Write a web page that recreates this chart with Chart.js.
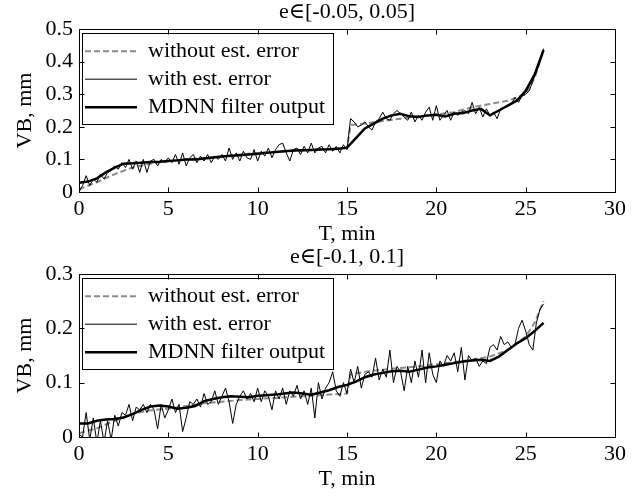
<!DOCTYPE html>
<html>
<head>
<meta charset="utf-8">
<script src="https://cdn.jsdelivr.net/npm/chart.js@4.4.1/dist/chart.umd.min.js"></script>
<style>
  body { margin: 0; background: #fff; }
  canvas { position: absolute; left: 0; }
  #topChart { top: 0; }
  #bottomChart { top: 245px; }
</style>
</head>
<body>
<canvas id="topChart" width="634" height="245"></canvas>
<canvas id="bottomChart" width="634" height="245"></canvas>
<script>
// tick labels
const xTicks = ['0', '5', '10', '15', '20', '25', '30'];
const yTicksTop = ['0', '0.1', '0.2', '0.3', '0.4', '0.5'];
const yTicksBottom = ['0', '0.1', '0.2', '0.3'];

// time axes (min)
const tClean = [0, 1, 2, 3, 4, 5, 6, 7, 8, 9, 10, 11, 12, 13, 14, 15, 15.2, 16, 17, 18, 19, 20, 21, 22, 23, 24, 25, 25.5, 26];
const tFilter = [0, 0.5, 1, 1.5, 2, 2.5, 3, 3.5, 4, 4.5, 5, 5.5, 6, 6.5, 7, 7.5, 8, 8.5, 9, 9.5,
  10, 10.5, 11, 11.5, 12, 12.5, 13, 13.5, 14, 14.5, 15, 15.5, 16, 16.5, 17, 17.5, 18, 18.5, 19, 19.5,
  20, 20.5, 21, 21.5, 22, 22.5, 23, 23.5, 24, 24.5, 25, 25.5, 26];
const tNoisy = [0, 0.2, 0.4, 0.6, 0.8, 1, 1.2, 1.4, 1.6, 1.8,
  2, 2.2, 2.4, 2.6, 2.8, 3, 3.2, 3.4, 3.6, 3.8,
  4, 4.2, 4.4, 4.6, 4.8, 5, 5.2, 5.4, 5.6, 5.8,
  6, 6.2, 6.4, 6.6, 6.8, 7, 7.2, 7.4, 7.6, 7.8,
  8, 8.2, 8.4, 8.6, 8.8, 9, 9.2, 9.4, 9.6, 9.8,
  10, 10.2, 10.4, 10.6, 10.8, 11, 11.2, 11.4, 11.6, 11.8,
  12, 12.2, 12.4, 12.6, 12.8, 13, 13.2, 13.4, 13.6, 13.8,
  14, 14.2, 14.4, 14.6, 14.8, 15, 15.2, 15.4, 15.6, 15.8,
  16, 16.2, 16.4, 16.6, 16.8, 17, 17.2, 17.4, 17.6, 17.8,
  18, 18.2, 18.4, 18.6, 18.8, 19, 19.2, 19.4, 19.6, 19.8,
  20, 20.2, 20.4, 20.6, 20.8, 21, 21.2, 21.4, 21.6, 21.8,
  22, 22.2, 22.4, 22.6, 22.8, 23, 23.2, 23.4, 23.6, 23.8,
  24, 24.2, 24.4, 24.6, 24.8, 25, 25.2, 25.4, 25.6, 25.8,
  26];

// e in [-0.05, 0.05]
const cleanTop = [0.008, 0.03, 0.055, 0.075, 0.087, 0.095, 0.1, 0.104, 0.109, 0.115, 0.12, 0.123, 0.126, 0.129, 0.132, 0.135, 0.205, 0.21, 0.218, 0.225, 0.232, 0.238, 0.245, 0.26, 0.27, 0.28, 0.3, 0.35, 0.435];
const noisyTop = [0.0, 0.02, 0.05, 0.02, 0.04, 0.03, 0.055, 0.04, 0.06, 0.065,
  0.08, 0.07, 0.09, 0.075, 0.1, 0.07, 0.095, 0.06, 0.1, 0.06,
  0.095, 0.1, 0.08, 0.1, 0.09, 0.105, 0.09, 0.115, 0.085, 0.12,
  0.08, 0.105, 0.115, 0.09, 0.11, 0.095, 0.115, 0.09, 0.11, 0.1,
  0.115, 0.095, 0.135, 0.1, 0.12, 0.095, 0.125, 0.105, 0.1, 0.13,
  0.095, 0.125, 0.11, 0.135, 0.105, 0.13, 0.145, 0.15, 0.12, 0.095,
  0.13, 0.135, 0.115, 0.14, 0.12, 0.15, 0.12, 0.135, 0.14, 0.12,
  0.145, 0.125, 0.14, 0.12, 0.145, 0.13, 0.225, 0.215, 0.2, 0.205,
  0.215, 0.2, 0.19, 0.215, 0.225, 0.245, 0.225, 0.22, 0.24, 0.25,
  0.24, 0.23, 0.22, 0.245, 0.215, 0.235, 0.22, 0.245, 0.26, 0.22,
  0.265, 0.22, 0.235, 0.25, 0.22, 0.245, 0.235, 0.245, 0.25, 0.24,
  0.275, 0.24, 0.26, 0.23, 0.255, 0.235, 0.245, 0.225, 0.255, 0.26,
  0.265, 0.27, 0.29, 0.275, 0.295, 0.3, 0.31, 0.34, 0.37, 0.4,
  0.44];
const mdnnTop = [0.028, 0.032, 0.042, 0.06, 0.075, 0.087, 0.088, 0.09, 0.092, 0.093,
  0.095, 0.097, 0.1, 0.1, 0.103, 0.106, 0.109, 0.111, 0.113, 0.115,
  0.117, 0.12, 0.123, 0.125, 0.127, 0.128, 0.129, 0.13, 0.131, 0.133,
  0.136, 0.165, 0.195, 0.21, 0.225, 0.235, 0.24, 0.232, 0.23, 0.235,
  0.237, 0.232, 0.24, 0.242, 0.25, 0.255, 0.235, 0.25, 0.265, 0.28,
  0.31, 0.36, 0.435];

// e in [-0.1, 0.1]
const cleanBottom = [0.007, 0.016, 0.03, 0.043, 0.049, 0.052, 0.057, 0.062, 0.065, 0.068, 0.07, 0.072, 0.074, 0.076, 0.078, 0.08, 0.115, 0.12, 0.124, 0.127, 0.13, 0.134, 0.138, 0.142, 0.148, 0.16, 0.185, 0.21, 0.25];
const noisyBottom = [0.005, 0.0, 0.045, -0.005, 0.035, -0.01, 0.03, -0.01, 0.03, -0.005,
  0.04, 0.02, 0.045, 0.04, 0.06, 0.03, 0.055, 0.05, 0.06, 0.045,
  0.06, 0.05, 0.015, 0.06, 0.035, 0.05, 0.07, 0.045, 0.06, 0.01,
  0.035, 0.065, 0.06, 0.07, 0.055, 0.08, 0.06, 0.065, 0.085, 0.06,
  0.075, 0.09, 0.065, 0.025, 0.06, 0.075, 0.085, 0.07, 0.08, 0.065,
  0.09, 0.065, 0.085, 0.075, 0.05, 0.085, 0.07, 0.09, 0.06, 0.085,
  0.075, 0.095, 0.07, 0.085, 0.06, 0.09, 0.035, 0.1, 0.07, 0.09,
  0.1, 0.12, 0.085, 0.075, 0.1, 0.08, 0.125, 0.1, 0.13, 0.09,
  0.115, 0.12, 0.11, 0.145, 0.105, 0.125, 0.11, 0.16, 0.1, 0.13,
  0.12, 0.085, 0.13, 0.1, 0.14, 0.11, 0.16, 0.1, 0.155, 0.115,
  0.1, 0.14, 0.13, 0.15, 0.14, 0.155, 0.12, 0.165, 0.105, 0.15,
  0.14, 0.145, 0.13, 0.14, 0.135, 0.165, 0.17, 0.16, 0.185, 0.17,
  0.175, 0.165, 0.17, 0.2, 0.215, 0.195, 0.17, 0.16, 0.21, 0.235,
  0.245];
const mdnnBottom = [0.025, 0.025, 0.03, 0.032, 0.033, 0.036, 0.042, 0.05, 0.056, 0.058,
  0.056, 0.052, 0.054, 0.057, 0.066, 0.07, 0.073, 0.075, 0.074, 0.073,
  0.076, 0.077, 0.078, 0.08, 0.082, 0.08, 0.078, 0.082, 0.086, 0.092,
  0.096, 0.102, 0.11, 0.115, 0.118, 0.121, 0.122, 0.12, 0.124, 0.128,
  0.13, 0.133, 0.136, 0.139, 0.141, 0.142, 0.14, 0.148, 0.16, 0.172,
  0.182, 0.195, 0.21];

const SERIF = "'Liberation Serif', 'Times New Roman', 'DejaVu Serif', serif";

function pts(ts, vs) {
    return ts.map((t, i) => ({ x: t, y: vs[i] }));
}

// box around the axes with inward ticks on all four sides
const framePlugin = {
    id: 'frame',
    afterDatasetsDraw(chart) {
        const { ctx, chartArea: a, scales: { x, y } } = chart;
        const L = Math.round(a.left) + 0.5, R = Math.round(a.right) + 0.5;
        const T = Math.round(a.top) + 0.5, B = Math.round(a.bottom) + 0.5;
        ctx.save();
        ctx.strokeStyle = '#000';
        ctx.lineWidth = 1;
        ctx.setLineDash([]);
        ctx.strokeRect(L, T, R - L, B - T);
        ctx.beginPath();
        x.ticks.forEach(t => {
            const px = Math.round(x.getPixelForValue(t.value)) + 0.5;
            ctx.moveTo(px, B); ctx.lineTo(px, B - 5);
            ctx.moveTo(px, T); ctx.lineTo(px, T + 5);
        });
        y.ticks.forEach(t => {
            const py = Math.round(y.getPixelForValue(t.value)) + 0.5;
            ctx.moveTo(L, py); ctx.lineTo(L + 5, py);
            ctx.moveTo(R, py); ctx.lineTo(R - 5, py);
        });
        ctx.stroke();
        ctx.restore();
    }
};

// the chartArea legend loses its top offset, put it back inside the axes
// and draw a rectangle around the entries
const legendFrame = {
    id: 'legendFrame',
    afterLayout(chart) {
        const lg = chart.legend, a = chart.chartArea;
        const dy = a.top - lg.top;
        lg.top += dy;
        lg.bottom += dy;
        lg.legendHitBoxes.forEach(b => { b.top += dy; });
    },
    afterDraw(chart) {
        const hb = chart.legend.legendHitBoxes;
        if (!hb || !hb.length) return;
        const ctx = chart.ctx;
        const left = Math.round(hb[0].left - 3) + 0.5;
        const top = Math.round(hb[0].top - 7) + 0.5;
        const right = Math.round(Math.max(...hb.map(b => b.left + b.width)) + 8) + 0.5;
        const last = hb[hb.length - 1];
        const bottom = Math.round(last.top + last.height + 6) + 0.5;
        ctx.save();
        ctx.strokeStyle = '#000';
        ctx.lineWidth = 1;
        ctx.strokeRect(left, top, right - left, bottom - top);
        ctx.restore();
    }
};

function makeChart(id, titleText, yMax, yLabels, clean, noisy, mdnn) {
    const font = { family: SERIF, size: 22, weight: 'normal' };
    return new Chart(document.getElementById(id).getContext('2d'), {
        type: 'line',
        data: {
            datasets: [{
                label: 'without est. error',
                data: pts(tClean, clean),
                borderColor: '#8a8a8a',
                borderWidth: 2,
                borderDash: [6, 3],
                pointRadius: 0,
                order: 3
            }, {
                label: 'with est. error',
                data: pts(tNoisy, noisy),
                borderColor: '#000',
                borderWidth: 1,
                pointRadius: 0,
                order: 2
            }, {
                label: 'MDNN filter output',
                data: pts(tFilter, mdnn),
                borderColor: '#000',
                borderWidth: 2.5,
                pointRadius: 0,
                order: 1
            }]
        },
        options: {
            responsive: false,
            animation: false,
            devicePixelRatio: 1,
            layout: { padding: { left: 0, right: 19, top: 0, bottom: 0 } },
            plugins: {
                title: {
                    display: true,
                    text: titleText,
                    fullSize: false,
                    color: '#000',
                    font: { family: SERIF, size: 22, weight: 'normal', lineHeight: 1 },
                    padding: { top: 1, bottom: 6 }
                },
                legend: {
                    position: 'chartArea',
                    align: 'start',
                    title: { display: true, text: ' ', font: { size: 1 }, padding: { top: 0, bottom: 4 } },
                    labels: {
                        usePointStyle: true,
                        pointStyle: 'line',
                        pointStyleWidth: 52,
                        color: '#000',
                        font: font,
                        padding: 6,
                        generateLabels: ch => ch.data.datasets.map((ds, i) => ({
                            text: ds.label,
                            datasetIndex: i,
                            strokeStyle: ds.borderColor,
                            fillStyle: ds.borderColor,
                            lineWidth: ds.borderWidth,
                            lineDash: ds.borderDash || [],
                            pointStyle: 'line',
                            fontColor: '#000',
                            hidden: false
                        }))
                    }
                },
                tooltip: { enabled: false }
            },
            scales: {
                x: {
                    type: 'linear',
                    min: 0,
                    max: 30,
                    grid: { display: false, drawTicks: false },
                    border: { display: false },
                    ticks: {
                        stepSize: 5,
                        padding: 4,
                        color: '#000',
                        font: font,
                        maxRotation: 0,
                        callback: (v, i) => xTicks[i]
                    },
                    title: {
                        display: true,
                        text: 'T, min',
                        color: '#000',
                        font: { family: SERIF, size: 22, weight: 'normal', lineHeight: 1 },
                        padding: { top: 0, bottom: 0 }
                    },
                    afterFit: s => { s.height = 53; }
                },
                y: {
                    min: 0,
                    max: yMax,
                    grid: { display: false, drawTicks: false },
                    border: { display: false },
                    ticks: {
                        stepSize: 0.1,
                        padding: 6,
                        color: '#000',
                        font: font,
                        callback: (v, i) => yLabels[i]
                    },
                    title: {
                        display: true,
                        text: 'VB, mm',
                        color: '#000',
                        font: { family: SERIF, size: 22, weight: 'normal', lineHeight: 1 },
                        padding: { top: 14, bottom: 0 }
                    },
                    afterFit: s => { s.width = 79; }
                }
            }
        },
        plugins: [framePlugin, legendFrame]
    });
}

document.addEventListener('DOMContentLoaded', function() {
    makeChart('topChart', 'e\u2208[-0.05, 0.05]', 0.5, yTicksTop, cleanTop, noisyTop, mdnnTop);
    makeChart('bottomChart', 'e\u2208[-0.1, 0.1]', 0.3, yTicksBottom, cleanBottom, noisyBottom, mdnnBottom);
});
</script>
</body>
</html>
